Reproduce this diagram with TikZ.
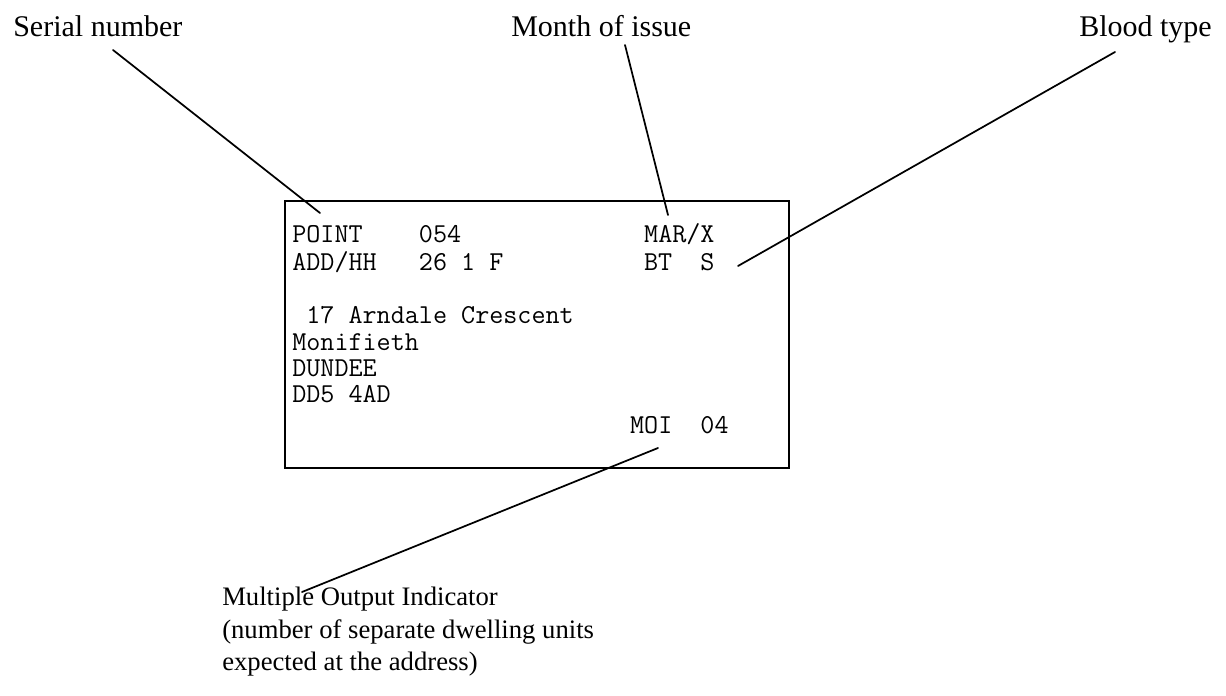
\documentclass[tikz,border=0pt]{standalone}
\usepackage{fontspec}
\setmainfont{Liberation Serif}
\newcommand\colsk[1]{\hspace*{#1\fontcharwd\font`0}}
\begin{document}
\begin{tikzpicture}[x=0.75pt,y=-0.75pt,
  toplbl/.style={font=\fontsize{22.5}{26}\selectfont, inner sep=0pt},
  botlbl/.style={font=\fontsize{20}{24}\selectfont, inner sep=0pt, anchor=base west},
  cardtext/.style={font=\fontsize{20.5}{24}\selectfont\ttfamily, inner sep=0pt, anchor=base west},
  cardbox/.style={draw, line width=1.4pt, inner sep=0pt, anchor=north west},
  leader/.style={line width=1.3pt, line cap=round},
]
\useasboundingbox (0,0) rectangle (1226,695);
\fill[white] (0,0) rectangle (1226,695);

% the card
\node[cardbox, minimum width=378pt, minimum height=200.25pt] (card) at (284,200) {};
\node[cardtext] (r1) at (292,243) {POINT\colsk{4}054\colsk{13}MAR/X};
\node[cardtext] (r2) at (292,270) {ADD/HH\colsk{3}26\colsk{1}1\colsk{1}F\colsk{10}BT\colsk{2}S};
\node[cardtext] (r3) at (292,323) {\colsk{1}17\colsk{1}Arndale\colsk{1}Crescent};
\node[cardtext] (r4) at (292,350) {Monifieth};
\node[cardtext] (r5) at (292,376) {DUNDEE};
\node[cardtext] (r6) at (292,402) {DD5\colsk{1}4AD};
\node[cardtext] (r7) at (292,433) {\colsk{24}MOI\colsk{2}04};

% labels
\node[toplbl, anchor=base west] (serial) at (13,37) {Serial number};
\node[toplbl, anchor=base west] (month) at (511,37) {Month of issue};
\node[toplbl, anchor=base east] (blood) at (1212,37) {Blood type};
\node[botlbl] (moia) at (222,605) {Multiple Output Indicator};
\node[botlbl] (moib) at (222,638) {(number of separate dwelling units};
\node[botlbl] (moic) at (222,670) {expected at the address)};

% leader lines
\coordinate (serialtail) at (113,50);
\coordinate (serialtip) at (320,213);
\coordinate (monthtail) at (625,45);
\coordinate (monthtip) at (668,215);
\coordinate (bloodtail) at (1115,52);
\coordinate (bloodtip) at (738,266);
\coordinate (moitip) at (658,448);
\coordinate (moitail) at (302,592);
\draw[leader] (serialtail) -- (serialtip);
\draw[leader] (monthtail) -- (monthtip);
\draw[leader] (bloodtail) -- (bloodtip);
\draw[leader] (moitail) -- (moitip);
\end{tikzpicture}
\end{document}
